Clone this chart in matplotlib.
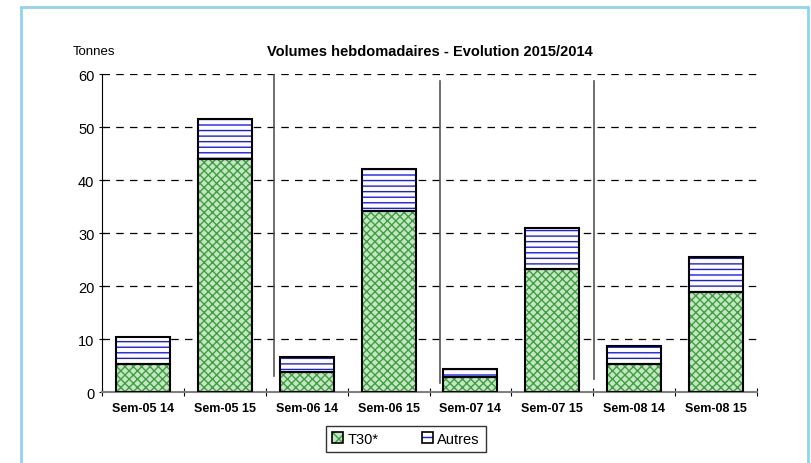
import matplotlib.pyplot as plt
import matplotlib.patches as mpatches
import numpy as np

plt.rcParams['font.family'] = ['Liberation Sans', 'DejaVu Sans']
plt.rcParams['hatch.linewidth'] = 1.0

weeks = ["Sem-05 14", "Sem-05 15", "Sem-06 14", "Sem-06 15",
         "Sem-07 14", "Sem-07 15", "Sem-08 14", "Sem-08 15"]
t30 = [5.2, 44.0, 3.8, 34.2, 2.8, 23.3, 5.3, 18.8]
totals = [10.3, 51.5, 6.7, 42.0, 4.4, 31.0, 8.6, 25.5]
autres = [t - a for t, a in zip(totals, t30)]

fig = plt.figure(figsize=(8.12, 4.64), dpi=100)
ax = fig.add_axes([0.1256, 0.153, 0.8067, 0.6853])

x = np.arange(len(weeks))
w = 0.66
green = '#3f9f3f'
gfill = '#c4e6c4'
blue = '#1a1aff'

# hatched fills, then black outlines on top
ax.bar(x, t30, w, color=gfill, edgecolor=green, hatch='xxxx', linewidth=0, zorder=3)
ax.bar(x, autres, w, bottom=t30, color='white', edgecolor=blue, hatch='---', linewidth=0, zorder=3)
ax.bar(x, t30, w, fill=False, edgecolor='black', linewidth=1.5, zorder=4)
ax.bar(x, autres, w, bottom=t30, fill=False, edgecolor='black', linewidth=1.5, zorder=4)

# hand-drawn separators between weeks
seps = [(1.60, 60, 3.0), (3.63, 58.7, 1.7), (5.51, 58.7, 2.5), (7.51, 58.7, 2.5)]
for sx, top, bot in seps:
    ax.plot([sx, sx], [bot, top], color='#555555', linewidth=1.2, zorder=2)

ax.set_xlim(-0.5, 7.5)
ax.set_ylim(0, 60)
ax.set_yticks(range(0, 61, 10))
ax.yaxis.grid(True, linestyle=(0, (6, 5)), color='black', linewidth=0.9, zorder=1)
ax.set_axisbelow(True)

ax.set_xticks(np.arange(-0.5, 8, 1), minor=False)
ax.set_xticklabels([])
ax.set_xticks(x, minor=True)
ax.set_xticklabels(weeks, minor=True, fontweight='bold', fontsize=9)
ax.tick_params(axis='x', which='minor', length=0, pad=7)
ax.tick_params(axis='x', which='major', length=6, direction='inout', color='black')
ax.tick_params(axis='y', length=5, direction='inout', labelsize=10.5, pad=3)

for s in ['top', 'right']:
    ax.spines[s].set_visible(False)
ax.spines['left'].set_color('black')
ax.spines['bottom'].set_color('#808080')
ax.spines['bottom'].set_linewidth(1.5)

fig.text(0.53, 0.887, "Volumes hebdomadaires - Evolution 2015/2014",
         ha='center', va='center', fontsize=10.5, fontweight='bold')
fig.text(0.116, 0.887, "Tonnes", ha='center', va='center', fontsize=9.5)

h1 = mpatches.Patch(facecolor=gfill, edgecolor=green, hatch='xxx', linewidth=0)
h2 = mpatches.Patch(facecolor='white', edgecolor=blue, hatch='--', linewidth=0)
box = mpatches.Patch(fill=False, edgecolor='black', linewidth=1.2)
leg = fig.legend([(h1, box), (h2, box)], ["T30*", "Autres"], loc='center',
                 bbox_to_anchor=(0.5, 0.052), ncol=2, fontsize=10.5, frameon=True,
                 fancybox=False, edgecolor='black', handlelength=0.75, handleheight=0.75,
                 handletextpad=0.3, columnspacing=3.0, borderpad=0.4)
leg.get_frame().set_linewidth(1.0)

border = mpatches.Rectangle((21 / 812, -0.05), (808 - 21) / 812, 1.05 - 8 / 464,
                            transform=fig.transFigure, fill=False,
                            edgecolor='#8fd3f0', linewidth=2, clip_on=False)
fig.patches.append(border)

fig.savefig("out.png", dpi=100)
